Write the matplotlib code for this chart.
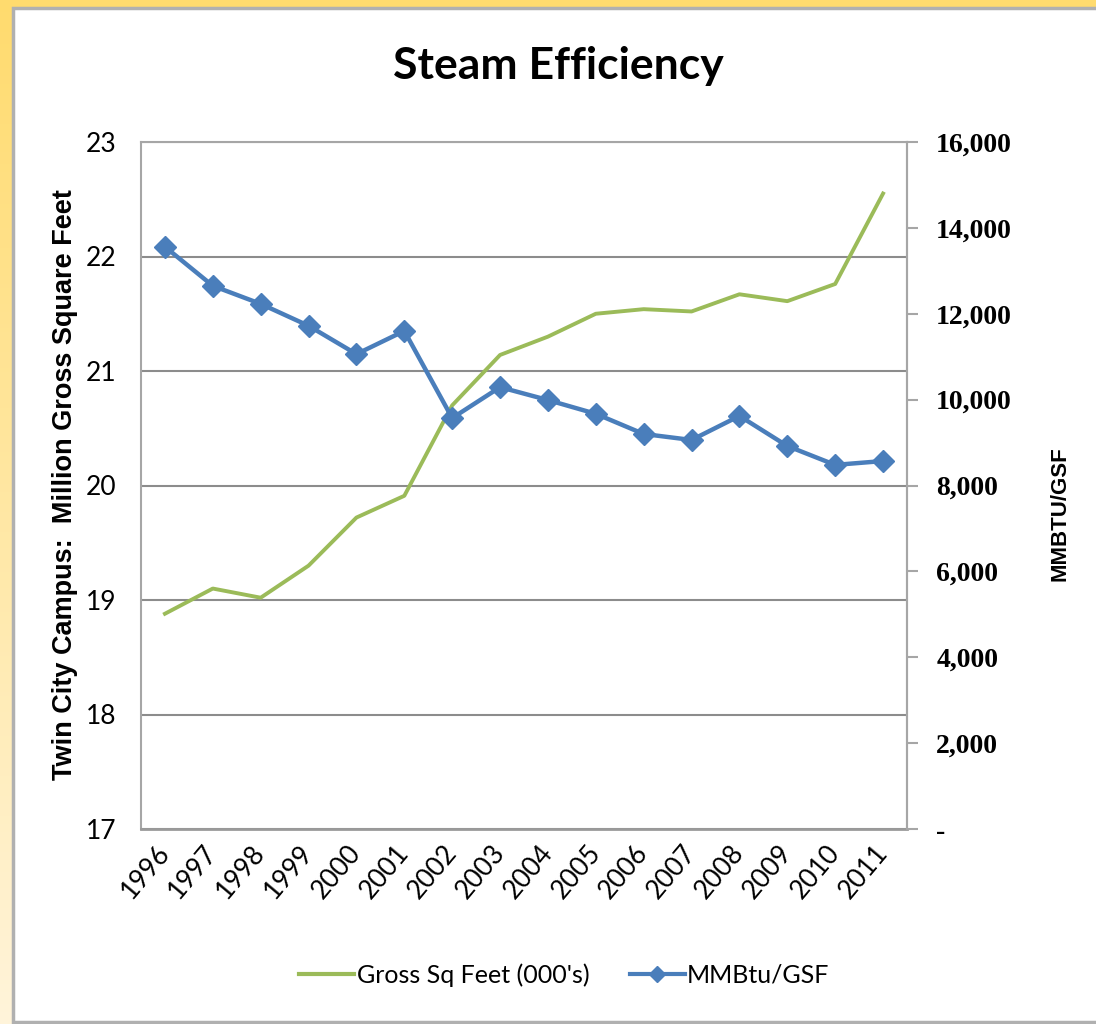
import matplotlib
matplotlib.use("Agg")
import matplotlib.pyplot as plt
import numpy as np
from matplotlib.patches import Rectangle
from matplotlib.lines import Line2D
from matplotlib.ticker import FuncFormatter

# data
years = ["1996", "1997", "1998", "1999", "2000", "2001", "2002", "2003",
         "2004", "2005", "2006", "2007", "2008", "2009", "2010", "2011"]
gross_sq_feet = [18.88, 19.10, 19.02, 19.30, 19.72, 19.91, 20.70, 21.14,
                 21.30, 21.50, 21.54, 21.52, 21.67, 21.61, 21.76, 22.55]
mmbtu_gsf = [13560, 12650, 12230, 11720, 11060, 11600, 9570, 10290,
             9990, 9670, 9200, 9060, 9620, 8920, 8480, 8570]

green = "#9BBB59"
blue = "#4A7EBB"
grid_col = "#8C8C8C"

fig = plt.figure(figsize=(10.96, 10.24), dpi=100)

# yellow gradient backdrop + white panel
bg = fig.add_axes([0, 0, 1, 1], zorder=-10)
grad = np.linspace(0, 1, 256).reshape(-1, 1)
cmap = matplotlib.colors.LinearSegmentedColormap.from_list("bg", ["#FFDB6E", "#FFF4DA"])
bg.imshow(grad, aspect="auto", cmap=cmap, extent=[0, 1, 0, 1], origin="upper")
bg.set_xlim(0, 1)
bg.set_ylim(0, 1)
bg.axis("off")
bg.add_patch(Rectangle((13 / 1096, 2 / 1024), 1.1, 1014 / 1024, facecolor="white",
                       edgecolor="#B0B0B0", linewidth=2.5))

ax = fig.add_axes([141 / 1096, 1 - 829 / 1024, 766 / 1096, 687 / 1024])
ax2 = ax.twinx()

x = np.arange(len(years))
ax.plot(x, gross_sq_feet, color=green, linewidth=2.8, solid_joinstyle="round")
ax2.plot(x, mmbtu_gsf, color=blue, linewidth=3.2, marker="D", markersize=11,
         markeredgecolor=blue, markerfacecolor=blue)

ax.set_xlim(-0.5, len(years) - 0.5)
ax.set_ylim(17, 23)
ax.set_yticks(range(17, 24))
ax2.set_ylim(0, 16000)
ax2.set_yticks(range(0, 16001, 2000))
ax2.yaxis.set_major_formatter(FuncFormatter(lambda v, p: "-" if v == 0 else f"{int(v):,}"))

ax.yaxis.grid(True, color=grid_col, linewidth=1.5)
ax.set_axisbelow(True)
for sp in ["top", "left", "right"]:
    ax.spines[sp].set_color("#A6A6A6")
    ax.spines[sp].set_linewidth(1.5)
ax.spines["bottom"].set_color("#9A9A9A")
ax.spines["bottom"].set_linewidth(2)
for sp in ax2.spines.values():
    sp.set_visible(False)
ax2.spines["right"].set_visible(True)
ax2.spines["right"].set_color("#A6A6A6")
ax2.spines["right"].set_linewidth(1.5)

ax.tick_params(axis="y", length=0, pad=17.5, labelsize=19)
ax.tick_params(axis="x", length=0, pad=14)
for lab in ax.get_yticklabels():
    lab.set_fontfamily("Lato")
ax.set_xticks(x)
ax.set_xticklabels(years, rotation=50, ha="right", rotation_mode="anchor",
                   fontsize=19, fontfamily="Lato", va="center")
ax2.tick_params(axis="y", length=8, width=1.5, color="#A6A6A6", pad=13)
for lab in ax2.get_yticklabels():
    lab.set_fontfamily("Liberation Serif")
    lab.set_fontweight("bold")
    lab.set_fontsize(20)

fig.text(65 / 1096, 1 - 485 / 1024, "Twin City Campus:  Million Gross Square Feet",
         rotation=90, ha="center", va="center", fontsize=19.5,
         fontweight="bold", fontfamily="Liberation Sans")
fig.text(1060 / 1096, 1 - 514 / 1024, "MMBTU/GSF", rotation=90, ha="center",
         va="center", fontsize=16, fontweight="bold", fontfamily="Liberation Sans")

fig.text(558 / 1096, 1 - 66 / 1024, "Steam Efficiency", ha="center", va="center",
         fontsize=32, fontweight="bold", fontfamily="Lato")

handles = [Line2D([], [], color=green, linewidth=3),
           Line2D([], [], color=blue, linewidth=3, marker="D", markersize=8)]
fig.legend(handles, ["Gross Sq Feet (000's)", "MMBtu/GSF"], loc="center",
           bbox_to_anchor=(0.515, 1 - 975 / 1024), ncol=2, frameon=False,
           prop={"family": "Lato", "size": 18}, handlelength=2.2,
           handletextpad=0.1, columnspacing=1.6)

fig.savefig("out.png", dpi=100)
